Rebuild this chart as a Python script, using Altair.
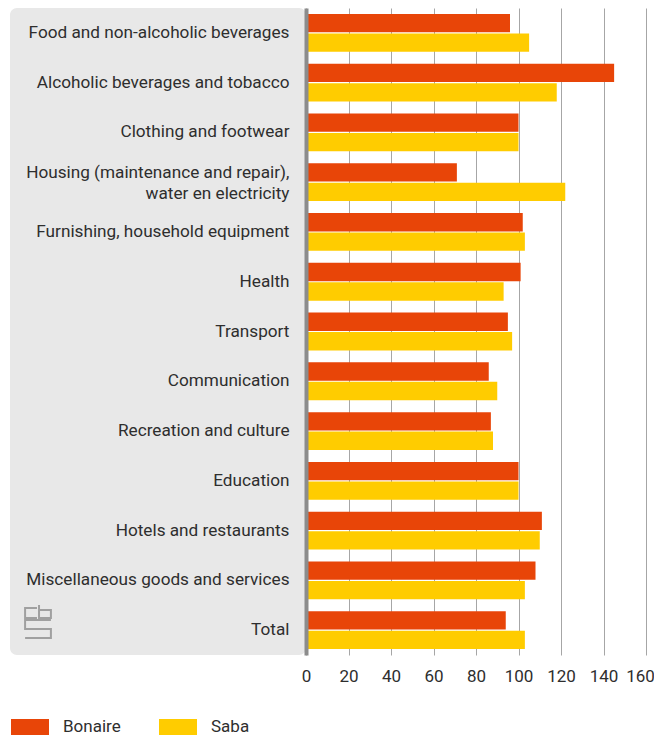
import altair as alt
import pandas as pd

categories = [
    "Food and non-alcoholic beverages",
    "Alcoholic beverages and tobacco",
    "Clothing and footwear",
    "Housing (maintenance and repair),|water en electricity",
    "Furnishing, household equipment",
    "Health",
    "Transport",
    "Communication",
    "Recreation and culture",
    "Education",
    "Hotels and restaurants",
    "Miscellaneous goods and services",
    "Total",
]
bonaire = [96, 145, 100, 71, 102, 101, 95, 86, 87, 100, 111, 108, 94]
saba = [105, 118, 100, 122, 103, 93, 97, 90, 88, 100, 110, 103, 103]
series = ["Bonaire", "Saba"]
colors = ["#E84508", "#FFCC00"]
x_ticks = [0, 20, 40, 60, 80, 100, 120, 140, 160]

rows = []
for c, b, s in zip(categories, bonaire, saba):
    rows.append({"category": c, "region": "Bonaire", "value": b})
    rows.append({"category": c, "region": "Saba", "value": s})
df = pd.DataFrame(rows)

W, H = 340, 647
FONT = "Roboto"
TXT = "#2E2E2E"

panel = alt.Chart(alt.Data(values=[{}])).mark_rect(
    color="#E8E8E8", cornerRadius=7
).encode(
    x=alt.value(-296), x2=alt.value(0), y=alt.value(0), y2=alt.value(H)
)

logo_path = (
    "M-0.06,-0.82L-0.76,-0.82L-0.76,-0.24L-0.06,-0.24"
    "M0.06,-1L0.06,-0.24L0.76,-0.24L0.76,-0.7L0.06,-0.7"
    "M0.76,-0.12L-0.76,-0.12L-0.76,0.41L0.76,0.41L0.76,0.94L-0.76,0.94"
)
logo = alt.Chart(alt.Data(values=[{}])).mark_point(
    shape=logo_path, filled=False, stroke="#A0A0A0", strokeWidth=2, size=1156, opacity=1
).encode(x=alt.value(-268), y=alt.value(614))

bars = alt.Chart(df).mark_bar().encode(
    y=alt.Y(
        "category:N",
        sort=categories,
        title=None,
        scale=alt.Scale(paddingInner=0.24, paddingOuter=0.12),
        axis=alt.Axis(
            domain=True, domainColor="#8C8C8C", domainWidth=4, ticks=False,
            labelFontSize=17.2, labelFont=FONT, labelColor=TXT,
            labelPadding=17, labelLimit=300, zindex=1, labelLineHeight=21,
            labelExpr="split(datum.label, '|')",
            labelOffset={"condition": {"test": "indexof(datum.value, '|') >= 0", "value": -9}, "value": 0},
        ),
    ),
    yOffset=alt.YOffset("region:N", sort=series, scale=alt.Scale(paddingInner=0.06)),
    x=alt.X(
        "value:Q",
        title=None,
        scale=alt.Scale(domain=[0, 160], nice=False),
        axis=alt.Axis(
            values=x_ticks, grid=True, gridColor="#A6A6A6", gridWidth=1,
            domain=False, ticks=False, labelFontSize=17, labelFont=FONT,
            labelColor=TXT, labelPadding=13, zindex=0, labelFlush=False,
            labelOffset={"condition": {"test": "datum.value == 160", "value": -6}, "value": 0},
        ),
    ),
    color=alt.Color(
        "region:N",
        sort=series,
        scale=alt.Scale(domain=series, range=colors),
        legend=alt.Legend(
            title=None, orient="none", legendX=-295, legendY=700, padding=0,
            direction="horizontal",
            symbolType="M-1,-0.42L1,-0.42L1,0.42L-1,0.42Z",
            symbolSize=1444, symbolStrokeWidth=0, symbolOpacity=1,
            labelFontSize=17, labelFont=FONT, labelColor=TXT,
            labelOffset=14, columnPadding=38,
        ),
    ),
)

chart = alt.layer(panel, logo, bars).properties(
    width=W, height=H,
    autosize=alt.AutoSizeParams(type="none"),
    padding={"left": 298, "top": 0, "right": 8, "bottom": 83},
).configure_view(stroke=None)

chart.save("out.html", embed_options={"renderer": "svg", "actions": False})
